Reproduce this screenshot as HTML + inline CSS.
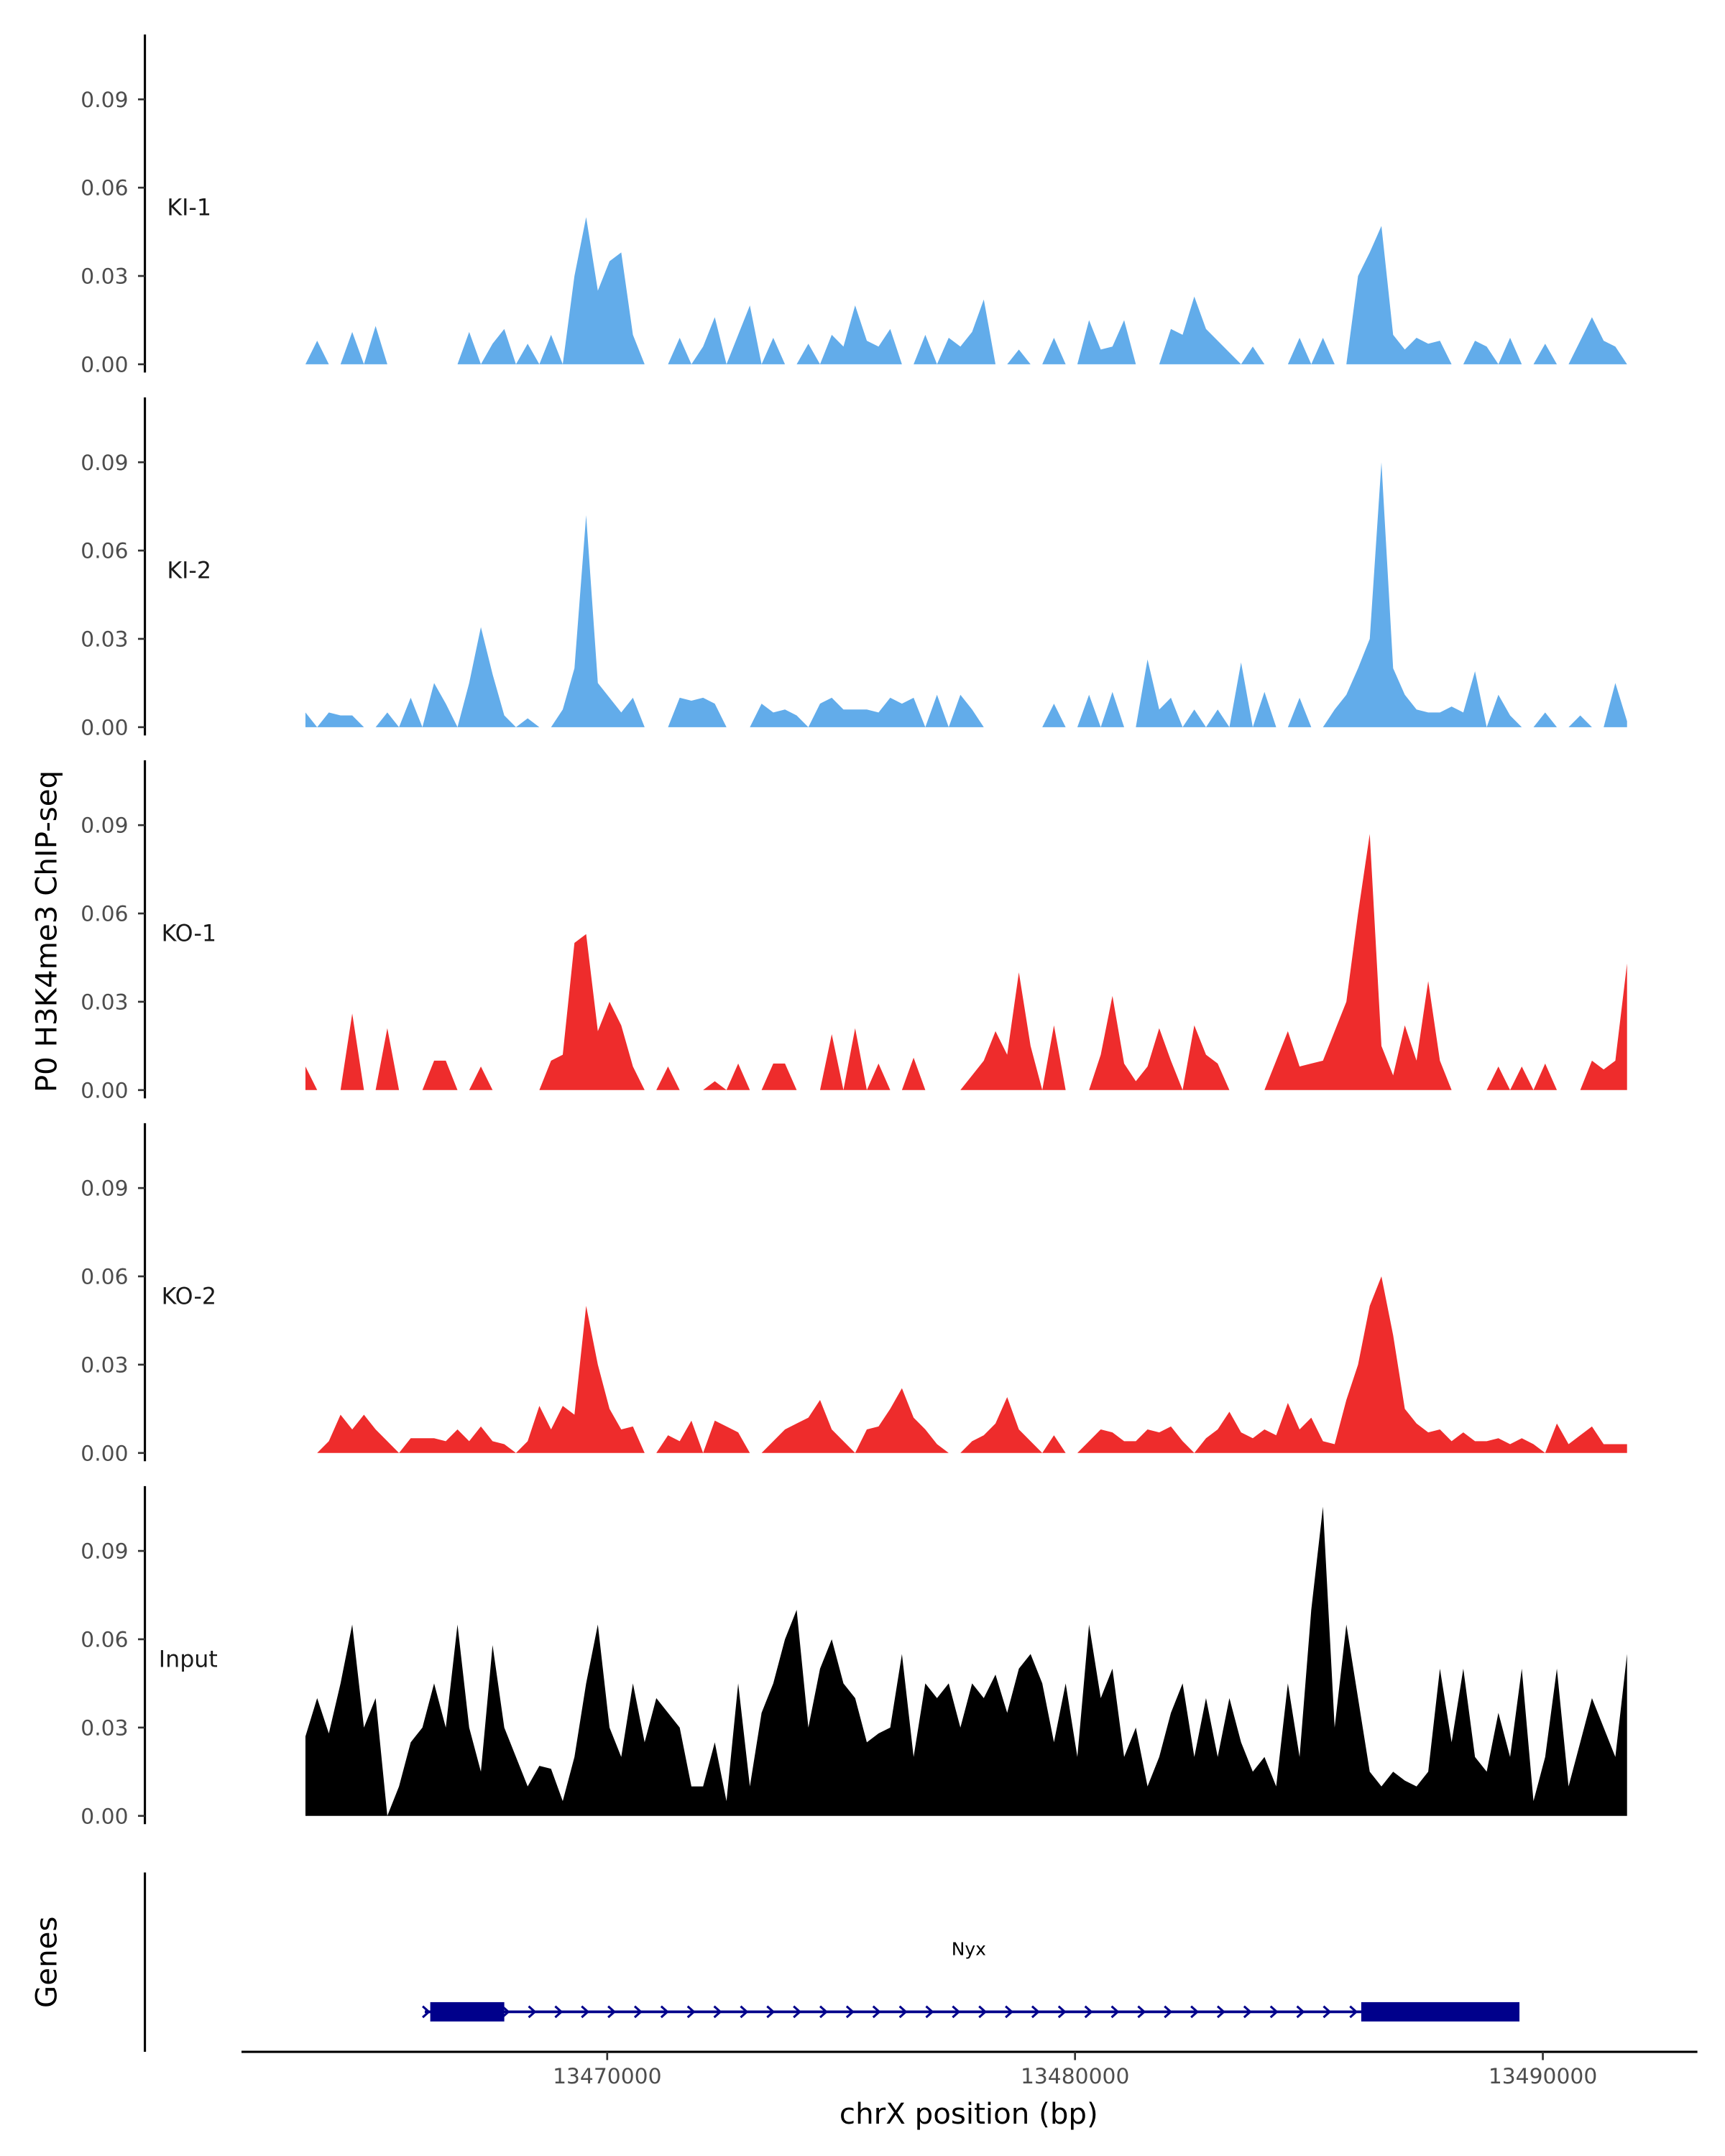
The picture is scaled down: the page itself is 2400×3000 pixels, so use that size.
<!DOCTYPE html>
<html><head><meta charset="utf-8"><style>
html,body{margin:0;padding:0;background:#fff;}
svg{display:block;font-family:"DejaVu Sans","Liberation Sans",sans-serif;}
</style></head><body>
<svg id="chart" width="2400" height="3000" viewBox="0 0 1250 1562.5" xmlns="http://www.w3.org/2000/svg">
<g id="layer"></g>
</svg>
<script>
// ---- data ----
const startKb = 13463.55;
const stepKb = 0.25;
const trackNames = ["KI-1","KI-2","KO-1","KO-2","Input"];
const trackColors = ["#62acea","#62acea","#ee2c2c","#ee2c2c","#000000"];
const yTicks = [0,0.03,0.06,0.09];
const yTickLabels = ["0.00","0.03","0.06","0.09"];
const xTicks = [13470000,13480000,13490000];
const xTickLabels = ["13470000","13480000","13490000"];
const ki1 = [0,.008,0,0,.011,0,.013,0,0,0,0,0,0,0,.011,0,.007,.012,0,.007,0,.010,0,.03,.05,.025,.035,.038,.01,0,0,0,.009,0,.006,.016,0,.01,.02,0,.009,0,0,.007,0,.01,.006,.02,.008,.006,.012,0,0,.01,0,.009,.006,.011,.022,0,0,.005,0,0,.009,0,0,.015,.005,.006,.015,0,0,0,.012,.01,.023,.012,.008,.004,0,.006,0,0,0,.009,0,.009,0,0,.03,.038,.047,.01,.005,.009,.007,.008,0,0,.008,.006,0,.009,0,0,.007,0,0,.008,.016,.008,.006,0];
const ki2 = [.005,0,.005,.004,.004,0,0,.005,0,.01,0,.015,.008,0,.015,.034,.018,.004,0,.003,0,0,.006,.02,.072,.015,.01,.005,.01,0,0,0,.01,.009,.01,.008,0,0,0,.008,.005,.006,.004,0,.008,.01,.006,.006,.006,.005,.01,.008,.01,0,.011,0,.011,.006,0,0,0,0,0,0,.008,0,0,.011,0,.012,0,0,.023,.006,.01,0,.006,0,.006,0,.022,0,.012,0,0,.01,0,0,.006,.011,.02,.03,.09,.02,.011,.006,.005,.005,.007,.005,.019,0,.011,.004,0,0,.005,0,0,.004,0,0,.015,.002];
const ko1 = [.008,0,0,0,.026,0,0,.021,0,0,0,.01,.01,0,0,.008,0,0,0,0,0,.01,.012,.05,.053,.02,.03,.022,.008,0,0,.008,0,0,0,.003,0,.009,0,0,.009,.009,0,0,0,.019,0,.021,0,.009,0,0,.011,0,0,0,0,.005,.01,.02,.012,.04,.015,0,.022,0,0,0,.012,.032,.009,.003,.008,.021,.01,0,.022,.012,.009,0,0,0,0,.01,.02,.008,.009,.01,.02,.03,.06,.087,.015,.005,.022,.01,.037,.01,0,0,0,0,.008,0,.008,0,.009,0,0,0,.01,.007,.01,.043];
const ko2 = [0,0,.004,.013,.008,.013,.008,.004,0,.005,.005,.005,.004,.008,.004,.009,.004,.003,0,.004,.016,.008,.016,.013,.05,.03,.015,.008,.009,0,0,.006,.004,.011,0,.011,.009,.007,0,0,.004,.008,.01,.012,.018,.008,.004,0,.008,.009,.015,.022,.012,.008,.003,0,0,.004,.006,.01,.019,.008,.004,0,.006,0,0,.004,.008,.007,.004,.004,.008,.007,.009,.004,0,.005,.008,.014,.007,.005,.008,.006,.017,.008,.012,.004,.003,.018,.03,.05,.06,.04,.015,.01,.007,.008,.004,.007,.004,.004,.005,.003,.005,.003,0,.01,.003,.006,.009,.003,.003,.003];
const input = [.027,.04,.028,.045,.065,.03,.04,0,.01,.025,.03,.045,.03,.065,.03,.015,.058,.03,.02,.01,.017,.016,.005,.02,.045,.065,.03,.02,.045,.025,.04,.035,.03,.01,.01,.025,.005,.045,.01,.035,.045,.06,.07,.03,.05,.06,.045,.04,.025,.028,.03,.055,.02,.045,.04,.045,.03,.045,.04,.048,.035,.05,.055,.045,.025,.045,.02,.065,.04,.05,.02,.03,.01,.02,.035,.045,.02,.04,.02,.04,.025,.015,.02,.01,.045,.02,.07,.105,.03,.065,.04,.015,.01,.015,.012,.01,.015,.05,.025,.05,.02,.015,.035,.02,.05,.005,.02,.05,.01,.025,.04,.03,.02,.055];
const trackData = [ki1,ki2,ko1,ko2,input];
const geneStart = 13466.1, geneEnd = 13489.5;
const exons = [[13466.1,13467.8],[13486.0,13489.5]];

// ---- scales ----
const NS="http://www.w3.org/2000/svg";
const layer=document.getElementById('layer');
function xS(kb){return 440+(kb-13470)*33.9;}
const panelBase=[264,527,790,1053,1316];
function yS(p,v){return panelBase[p]-v*(64/0.03);}
function mk(tag,attrs,parent){const e=document.createElementNS(NS,tag);for(const k in attrs)e.setAttribute(k,attrs[k]);(parent||layer).appendChild(e);return e;}

for(let p=0;p<5;p++){
  const g=mk('g',{});
  
  
  const ax=mk('line',{x1:105,x2:105,y1:panelBase[p]-239,y2:panelBase[p]+6,stroke:'#000','stroke-width':1.6},g);
  
  
  yTicks.forEach((t,i)=>{
    const y=yS(p,t);
    const tk=mk('line',{x1:100,x2:105,y1:y,y2:y,stroke:'#333','stroke-width':1.4},g);
    
    
    const tl=mk('text',{x:93,y:y+5.5,'text-anchor':'end','font-size':15.5,fill:'#4d4d4d'},g);
    tl.textContent=yTickLabels[i];
    
    
  });
  const lb=mk('text',{x:p<2?121:(p<4?117:115),y:panelBase[p]-108,'font-size':16.5,fill:'#1a1a1a'},g);
  lb.textContent=trackNames[p];
  
  
  const d=trackData[p];
  let path='M'+xS(startKb).toFixed(2)+','+panelBase[p];
  d.forEach((v,i)=>{path+=' L'+xS(startKb+i*stepKb).toFixed(2)+','+yS(p,v).toFixed(2);});
  path+=' L'+xS(startKb+(d.length-1)*stepKb).toFixed(2)+','+panelBase[p]+' Z';
  const ar=mk('path',{d:path,fill:trackColors[p],stroke:'none'},g);
  
  
}

// y title
const yt=mk('text',{x:0,y:0,transform:'translate(41,675) rotate(-90)','text-anchor':'middle','font-size':21,fill:'#000'});
yt.textContent='P0 H3K4me3 ChIP-seq';



// genes panel
const gax=mk('line',{x1:105,x2:105,y1:1357,y2:1487,stroke:'#000','stroke-width':1.6});


const gt=mk('text',{x:0,y:0,transform:'translate(41,1422) rotate(-90)','text-anchor':'middle','font-size':21,fill:'#000'});
gt.textContent='Genes';


const gl=mk('line',{x1:xS(geneStart),x2:xS(geneEnd),y1:1458,y2:1458,stroke:'#00008b','stroke-width':2});


for(let x=xS(geneStart)+1;x<xS(geneEnd);x+=19.2){
  const c=mk('polyline',{points:(x-2.5)+',1454 '+(x+2)+',1458 '+(x-2.5)+',1462',fill:'none',stroke:'#00008b','stroke-width':1.6});
  
  
}
exons.forEach(e=>{
  const r=mk('rect',{x:xS(e[0])+4,y:1451,width:xS(e[1])-xS(e[0])-4,height:14,fill:'#00008b'});
  
  
});
const gn=mk('text',{x:702,y:1417,'text-anchor':'middle','font-size':13,fill:'#000'});
gn.textContent='Nyx';



// x axis
const xa=mk('line',{x1:175,x2:1230,y1:1487,y2:1487,stroke:'#000','stroke-width':1.6});


xTicks.forEach((t,i)=>{
  const x=xS(t/1000);
  const tk=mk('line',{x1:x,x2:x,y1:1487,y2:1493,stroke:'#333','stroke-width':1.4});
  
  
  const tl=mk('text',{x:x,y:1510,'text-anchor':'middle','font-size':15.5,fill:'#4d4d4d'});
  tl.textContent=xTickLabels[i];
  
  
});
const xt=mk('text',{x:702,y:1539,'text-anchor':'middle','font-size':21,fill:'#000'});
xt.textContent='chrX position (bp)';


</script>
</body></html>
